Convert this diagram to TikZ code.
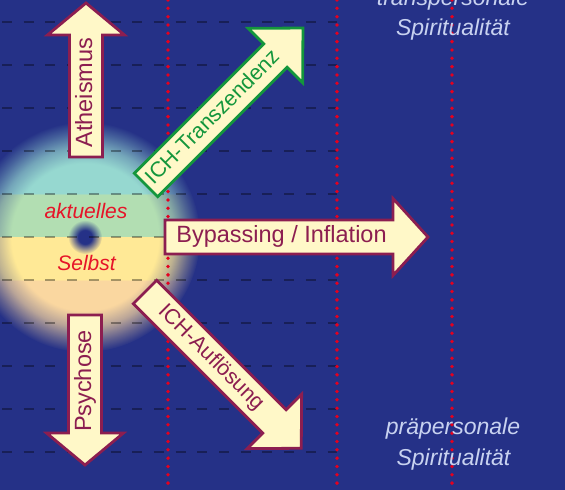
\documentclass[tikz,border=0pt]{standalone}
\usepackage{fontspec}
\setmainfont{Liberation Sans}
\usetikzlibrary{fadings}

\definecolor{nightblue}{RGB}{37,49,135}
\definecolor{wine}{RGB}{140,30,80}
\definecolor{cream}{RGB}{255,248,200}
\definecolor{leafgreen}{RGB}{20,150,60}
\definecolor{dotred}{RGB}{230,0,30}
\definecolor{lavender}{RGB}{200,210,240}
\definecolor{selfred}{RGB}{230,20,40}
\definecolor{selfaqua}{RGB}{150,216,208}
\definecolor{selfgreen}{RGB}{178,222,178}
\definecolor{selfyellow}{RGB}{255,233,150}
\definecolor{selfpeach}{RGB}{250,215,160}

% colour bands of the self disk
\pgfdeclareverticalshading{selfbands}{100bp}{color(0bp)=(selfpeach); color(40.6bp)=(selfpeach);
  color(40.7bp)=(selfyellow); color(50bp)=(selfyellow); color(50.1bp)=(selfgreen);
  color(59.3bp)=(selfgreen); color(59.4bp)=(selfaqua); color(100bp)=(selfaqua)}
% soft edge of the disk and of the centre
\pgfdeclareradialshading{glowmask}{\pgfpointorigin}{color(0bp)=(white); color(16bp)=(white);
  color(19.5bp)=(white!70!black); color(22.5bp)=(white!30!black); color(25bp)=(black); color(50bp)=(black)}
\pgfdeclarefading{glowfade}{\pgfuseshading{glowmask}}
\pgfdeclareradialshading{dotmask}{\pgfpointorigin}{color(0bp)=(white); color(10bp)=(white);
  color(25bp)=(black); color(50bp)=(black)}
\pgfdeclarefading{dotfade}{\pgfuseshading{dotmask}}

\tikzset{
  arrowbox/.style={draw=wine, fill=cream, line width=2.8pt, line join=miter},
  greenbox/.style={arrowbox, draw=leafgreen},
  arrowtext/.style={text=wine, font=\fontsize{23.5}{28}\selectfont, inner sep=0pt,
    text height=17pt, text depth=5pt},
  slanttext/.style={arrowtext, font=\fontsize{21.5}{26}\selectfont, text height=15.5pt, text depth=4.5pt},
  selftext/.style={text=selfred, font=\itshape\fontsize{21}{25}\selectfont, inner sep=0pt},
  spirittext/.style={text=lavender, font=\itshape\fontsize{23}{28}\selectfont, inner sep=0pt, anchor=base},
  gridline/.style={black, opacity=.35, line width=2pt, dash pattern=on 10pt off 11.7pt, dash phase=-2pt},
  redline/.style={dotred, line width=3.8pt, line cap=round, dash pattern=on 0pt off 8.33pt}
}

\begin{document}
\begin{tikzpicture}[x=1pt, y=1pt]
    \useasboundingbox (0,0) rectangle (565,490);
    \clip (0,0) rectangle (565,490);
    \fill[nightblue] (0,0) rectangle (565,490);

    % self disk
    \shade[shading=selfbands, path fading=glowfade] (85,253) circle (115);
    \fill[nightblue, path fading=dotfade] (85,253) circle (17);

    \foreach \y in {38,81,...,468}
        \draw[gridline] (0,\y) -- (337,\y);
    \foreach \x in {168,337,452}
        \draw[redline] (\x,490) -- (\x,0);

    \node[selftext] (aktuell) at (86,279.5) {aktuelles};
    \node[selftext] (selbst) at (86.5,227.5) {Selbst};

    % up
    \begin{scope}[shift={(86,333)}, rotate=90]
        \draw[arrowbox] (0,-16.5) -- (122,-16.5) -- (122,-38.5) -- (154,0) -- (122,38.5) -- (122,16.5) -- (0,16.5) -- cycle;
        \node[arrowtext, rotate=90] (atheism) at (64.5,0) {Atheismus};
    \end{scope}
    % down
    \begin{scope}[shift={(85,175)}, rotate=-90]
        \draw[arrowbox] (0,-16.5) -- (118,-16.5) -- (118,-38.5) -- (150,0) -- (118,38.5) -- (118,16.5) -- (0,16.5) -- cycle;
        \node[arrowtext, rotate=90] (psychose) at (66,0) {Psychose};
    \end{scope}
    % right
    \begin{scope}[shift={(165,253)}]
        \draw[arrowbox] (0,-17) -- (228,-17) -- (228,-38.5) -- (263,0) -- (228,38.5) -- (228,17) -- (0,17) -- cycle;
        \node[arrowtext] (bypass) at (116.5,0) {Bypassing / Inflation};
    \end{scope}
    % up right
    \begin{scope}[shift={(146,305)}, rotate=45]
        \draw[greenbox] (0,-16.5) -- (183,-16.5) -- (183,-38.5) -- (222,0) -- (183,38.5) -- (183,16.5) -- (0,16.5) -- cycle;
        \node[slanttext, text=leafgreen, rotate=45] (transzend) at (95,0) {ICH-Transzendenz};
    \end{scope}
    % down right
    \begin{scope}[shift={(145,198)}, rotate=-45]
        \draw[arrowbox] (0,-16.5) -- (183,-16.5) -- (183,-38.5) -- (221,0) -- (183,38.5) -- (183,16.5) -- (0,16.5) -- cycle;
        \node[slanttext, rotate=-45] (aufloes) at (93,0) {ICH-Auflösung};
    \end{scope}

    \node[spirittext] (transtop) at (453,484) {transpersonale};
    \node[spirittext] (spirittop) at (453,454) {Spiritualität};
    \node[spirittext] (praebottom) at (453,55) {präpersonale};
    \node[spirittext] (spiritbottom) at (453.5,24) {Spiritualität};
\end{tikzpicture}
\end{document}
